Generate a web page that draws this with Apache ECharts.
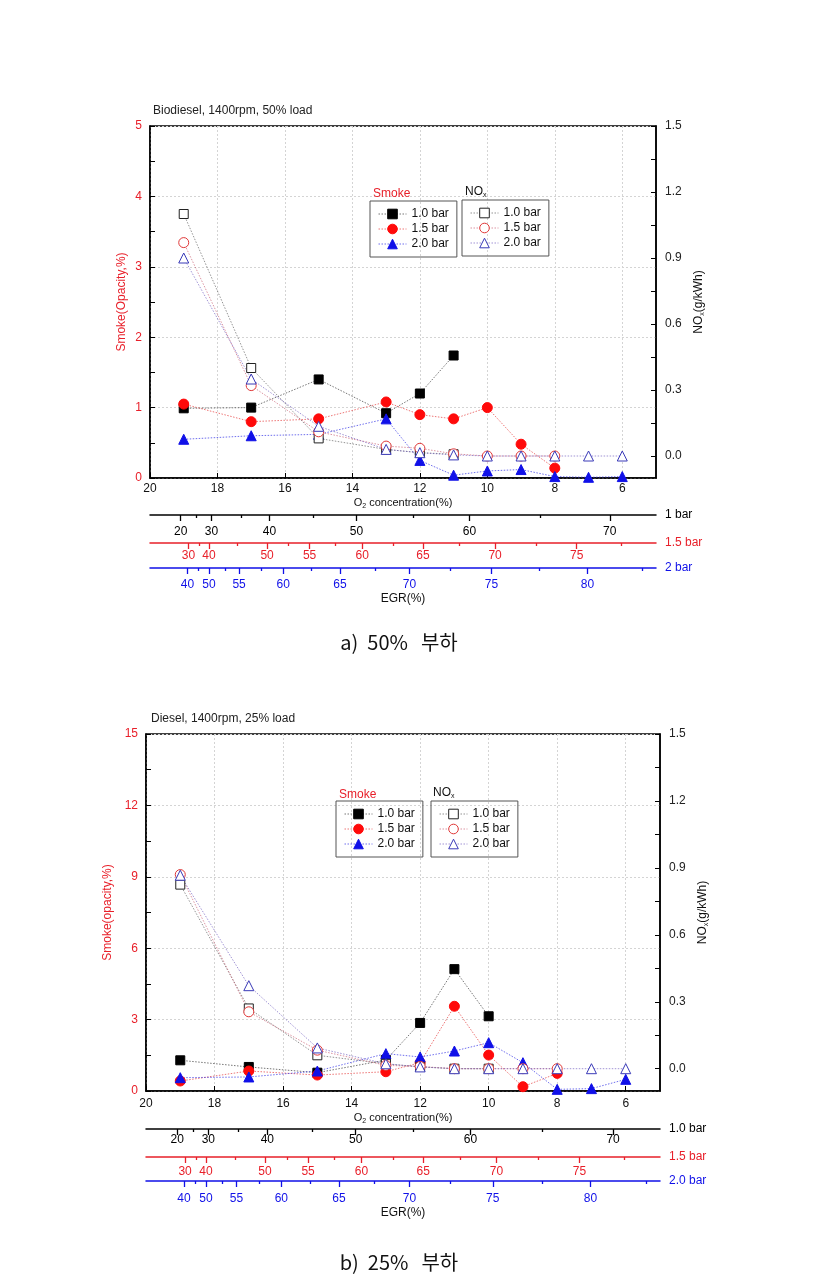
<!DOCTYPE html>
<html><head><meta charset="utf-8">
<script src="https://cdn.jsdelivr.net/npm/echarts@6/dist/echarts.min.js"></script>
<style>html,body{margin:0;padding:0;background:#fff}#c{width:833px;height:1282px}</style>
</head><body><div id="c"></div>
<script>
// ---------- data ----------
const o2 = [19, 17, 15, 13, 12, 11, 10, 9, 8, 7, 6];
const o2Ticks = [20, 18, 16, 14, 12, 10, 8, 6];
const noxLabelVals = [0.0, 0.3, 0.6, 0.9, 1.2, 1.5];
const noxTickVals = [0, 0.15, 0.3, 0.45, 0.6, 0.75, 0.9, 1.05, 1.2, 1.35, 1.5];

// (a) Biodiesel, 50% load
const aSmoke10 = [0.99, 1.00, 1.40, 0.92, 1.20, 1.74];
const aSmoke15 = [1.05, 0.80, 0.84, 1.08, 0.90, 0.84, 1.00, 0.48, 0.14];
const aSmoke20 = [0.55, 0.60, 0.62, 0.84, 0.25, 0.04, 0.10, 0.12, 0.02, 0.01, 0.02];
const aNox10 = [1.10, 0.40, 0.08, 0.03, 0.015, 0.008];
const aNox15 = [0.97, 0.32, 0.11, 0.045, 0.035, 0.01, 0.0, 0.0, 0.0];
const aNox20 = [0.90, 0.35, 0.135, 0.03, 0.015, 0.005, 0.0, 0.0, 0.0, 0.0, 0.0];

// (b) Diesel, 25% load
const bSmoke10 = [1.29, 1.01, 0.77, 1.30, 2.86, 5.12, 3.14];
const bSmoke15 = [0.42, 0.84, 0.67, 0.81, 1.19, 3.56, 1.51, 0.18, 0.74];
const bSmoke20 = [0.56, 0.59, 0.84, 1.57, 1.43, 1.68, 2.03, 1.19, 0.07, 0.10, 0.49];
const bNox10 = [0.825, 0.27, 0.06, 0.022, 0.008, 0.0, 0.0];
const bNox15 = [0.87, 0.255, 0.083, 0.015, 0.01, 0.0, 0.0, 0.0, 0.0];
const bNox20 = [0.867, 0.372, 0.093, 0.022, 0.008, 0.0, 0.0, 0.0, 0.0, 0.0, 0.0];

// EGR(%) scales: EGR tick value and the O2 concentration it sits at
const egr10Vals = [20, 25, 30, 35, 40, 45, 50, 55, 60, 65, 70];
const egr10AtO2 = [19.09, 18.63, 18.18, 17.30, 16.46, 15.16, 13.88, 12.20, 10.53, 8.43, 6.37];
const egr10Labeled = [20, 30, 40, 50, 60, 70];
const egr15Vals = [30, 35, 40, 45, 50, 52.5, 55, 57.5, 60, 62.5, 65, 67.5, 70, 72.5, 75, 77.5];
const egr15AtO2 = [18.86, 18.54, 18.25, 17.41, 16.53, 15.89, 15.27, 14.51, 13.71, 12.78, 11.91, 10.84, 9.77, 8.56, 7.35, 6.04];
const egr15Labeled = [30, 40, 50, 55, 60, 65, 70, 75];
const egr20Vals = [40, 45, 50, 52.5, 55, 57.5, 60, 62.5, 65, 67.5, 70, 72.5, 75, 77.5, 80, 82.5];
const egr20AtO2 = [18.89, 18.56, 18.25, 17.77, 17.36, 16.70, 16.05, 15.22, 14.37, 13.33, 12.31, 11.11, 9.88, 8.45, 7.03, 5.41];
const egr20Labeled = [40, 50, 55, 60, 65, 70, 75, 80];

// ---------- styles ----------
const RED = '#e8202a', BLUE = '#1010e8', BLACK = '#000';
const FONT = 'Liberation Sans, Arial, sans-serif';
const GRIDC = '#d4d4d4';

function pairs(vals) { return vals.map((v, i) => [o2[i], v]); }

function splitEgr(vals, atO2, labeled) {
  const major = [], minor = [];
  vals.forEach((v, i) => (labeled.includes(v) ? major : minor).push(atO2[i]));
  const fmt = (x) => {
    let best = 0, d = 1e9;
    atO2.forEach((p, i) => { if (Math.abs(p - x) < d) { d = Math.abs(p - x); best = i; } });
    return String(vals[best]);
  };
  return { major, minor, fmt };
}

function egrAxes(gridIndex, offset, color, vals, atO2, labeled, name, labelMargin, extraName, extraGap) {
  const s = splitEgr(vals, atO2, labeled);
  const base = { type: 'value', gridIndex, position: 'bottom', offset, min: 5, max: 20, inverse: true,
    splitLine: { show: false } };
  return [
    Object.assign({}, base, {
      axisLine: { show: true, onZero: false, lineStyle: { color, width: 1.5 } },
      axisTick: { show: true, inside: false, length: 6, customValues: s.major, lineStyle: { color, width: 1.3 } },
      axisLabel: { show: true, customValues: s.major, formatter: s.fmt, color, fontSize: 12, fontFamily: FONT, margin: labelMargin },
      name, nameLocation: 'start', nameGap: 9,
      nameTextStyle: { color, fontSize: 12, fontFamily: FONT, align: 'left', verticalAlign: 'middle' }
    }),
    Object.assign({}, base, {
      axisLine: { show: false },
      axisTick: { show: true, inside: false, length: 3, customValues: s.minor, lineStyle: { color, width: 1.3 } },
      axisLabel: { show: false },
      name: extraName || '', nameLocation: 'middle', nameGap: extraGap || 0,
      nameTextStyle: { color: '#111', fontSize: 12, fontFamily: FONT }
    })
  ];
}

function mainX(gridIndex, margin, nameGap) {
  return { type: 'value', gridIndex, position: 'bottom', min: 5, max: 20, inverse: true,
    axisLine: { show: true, onZero: false, lineStyle: { color: BLACK, width: 1.5 } },
    axisTick: { show: true, inside: true, length: 5, customValues: o2Ticks, lineStyle: { color: BLACK } },
    axisLabel: { customValues: o2Ticks, color: '#111', fontSize: 12, fontFamily: FONT, margin },
    splitLine: { show: true, lineStyle: { type: [2, 2], color: GRIDC, width: 1 } },
    name: 'O{s|2} concentration(%)', nameLocation: 'middle', nameGap,
    nameTextStyle: { color: '#111', fontSize: 11, fontFamily: FONT,
      rich: { s: { fontSize: 7, fontFamily: FONT, padding: [7, 0, 0, 0] } } } };
}

function smokeY(gridIndex, max, interval, name, nameGap) {
  return { type: 'value', gridIndex, position: 'left', min: 0, max, interval,
    axisLine: { show: true, onZero: false, lineStyle: { color: BLACK, width: 1.5 } },
    axisTick: { show: true, inside: true, length: 5, lineStyle: { color: BLACK } },
    minorTick: { show: true, splitNumber: 2, length: 5, lineStyle: { color: BLACK } },
    axisLabel: { color: RED, fontSize: 12, fontFamily: FONT, margin: 8 },
    splitLine: { show: true, lineStyle: { type: [2, 2], color: GRIDC, width: 1 } },
    name, nameLocation: 'middle', nameGap, nameMoveOverlap: false,
    nameTextStyle: { color: RED, fontSize: 12, fontFamily: FONT } };
}

function noxY(gridIndex) {
  return { type: 'value', gridIndex, position: 'right', min: -0.1, max: 1.5,
    axisLine: { show: true, onZero: false, lineStyle: { color: BLACK, width: 1.5 } },
    axisTick: { show: true, inside: true, length: 5, customValues: noxTickVals, lineStyle: { color: BLACK } },
    axisLabel: { customValues: noxLabelVals, formatter: (v) => Number(v).toFixed(1), color: '#222', fontSize: 12, fontFamily: FONT, margin: 9 },
    splitLine: { show: false },
    name: 'NO{s|x}(g/kWh)', nameLocation: 'middle', nameGap: 26,
    nameTextStyle: { color: '#111', fontSize: 12, fontFamily: FONT,
      rich: { s: { fontSize: 7, fontFamily: FONT, padding: [7, 0, 0, 0] } } } };
}

function ser(name, xi, yi, vals, symbol, color, lineColor, filled, z) {
  return { type: 'line', name, xAxisIndex: xi, yAxisIndex: yi, data: pairs(vals),
    symbol, symbolSize: symbol === 'rect' ? 9 : 10,
    showSymbol: true, z, animation: false,
    lineStyle: { type: [1.5, 1.5], width: 1, color: lineColor },
    itemStyle: filled ? { color, borderColor: color } : { color: '#fff', borderColor: color, borderWidth: 1 } };
}

function legendBox(left, top, names) {
  return { orient: 'vertical', left, top, data: names, padding: [7, 8, 7, 8],
    borderColor: '#555', borderWidth: 1, itemWidth: 28, itemHeight: 12, itemGap: 3, itemTextGap: 5,
    selectedMode: false,
    itemStyle: { borderWidth: 1 },
    lineStyle: { width: 1 },
    formatter: (n) => n.split('|')[2],
    textStyle: { fontSize: 12, fontFamily: FONT, color: '#111' } };
}

// ---------- layout ----------
const A = { left: 150, top: 126, width: 506, height: 352 };
const B = { left: 146, top: 734, width: 514, height: 357 };

const grid = [
  Object.assign({ show: true, borderColor: '#000', borderWidth: 1.5, backgroundColor: '#fff' }, A),
  { left: A.left, width: A.width, top: 505, height: 10 },
  Object.assign({ show: true, borderColor: '#000', borderWidth: 1.5, backgroundColor: '#fff' }, B),
  { left: B.left, width: B.width, top: 1119, height: 10 }
];

const xAxis = [
  mainX(0, 5, 18),                                                                        // 0
  ...egrAxes(1, 0, BLACK, egr10Vals, egr10AtO2, egr10Labeled, '1 bar', 11),               // 1,2
  ...egrAxes(1, 28, RED, egr15Vals, egr15AtO2, egr15Labeled, '1.5 bar', 7),               // 3,4
  ...egrAxes(1, 53, BLUE, egr20Vals, egr20AtO2, egr20Labeled, '2 bar', 11, 'EGR(%)', 25), // 5,6
  mainX(2, 7, 20),                                                                        // 7
  ...egrAxes(3, 0, BLACK, egr10Vals, egr10AtO2, egr10Labeled, '1.0 bar', 5),
  ...egrAxes(3, 28, RED, egr15Vals, egr15AtO2, egr15Labeled, '1.5 bar', 9),
  ...egrAxes(3, 52, BLUE, egr20Vals, egr20AtO2, egr20Labeled, '2.0 bar', 12, 'EGR(%)', 26)
];

const yAxis = [
  smokeY(0, 5, 1, 'Smoke(Opacity,%)', 22),
  noxY(0),
  { type: 'value', gridIndex: 1, show: false, min: 0, max: 1 },
  smokeY(2, 15, 3, 'Smoke(opacity,%)', 32),
  noxY(2),
  { type: 'value', gridIndex: 3, show: false, min: 0, max: 1 }
];

const series = [
  ser('a|s|1.0 bar', 0, 0, aSmoke10, 'rect', BLACK, 'rgba(60,60,60,0.7)', true, 3),
  ser('a|s|1.5 bar', 0, 0, aSmoke15, 'circle', '#ff0a0a', 'rgba(230,60,60,0.7)', true, 3),
  ser('a|s|2.0 bar', 0, 0, aSmoke20, 'triangle', BLUE, 'rgba(50,50,230,0.7)', true, 3),
  ser('a|n|1.0 bar', 0, 1, aNox10, 'rect', '#222', 'rgba(90,90,90,0.65)', false, 4),
  ser('a|n|1.5 bar', 0, 1, aNox15, 'circle', '#e03838', 'rgba(200,90,110,0.65)', false, 4),
  ser('a|n|2.0 bar', 0, 1, aNox20, 'triangle', '#3a3ab8', 'rgba(110,90,190,0.65)', false, 4),
  ser('b|s|1.0 bar', 7, 3, bSmoke10, 'rect', BLACK, 'rgba(60,60,60,0.7)', true, 3),
  ser('b|s|1.5 bar', 7, 3, bSmoke15, 'circle', '#ff0a0a', 'rgba(230,60,60,0.7)', true, 3),
  ser('b|s|2.0 bar', 7, 3, bSmoke20, 'triangle', BLUE, 'rgba(50,50,230,0.7)', true, 3),
  ser('b|n|1.0 bar', 7, 4, bNox10, 'rect', '#222', 'rgba(90,90,90,0.65)', false, 4),
  ser('b|n|1.5 bar', 7, 4, bNox15, 'circle', '#e03838', 'rgba(200,90,110,0.65)', false, 4),
  ser('b|n|2.0 bar', 7, 4, bNox20, 'triangle', '#3a3ab8', 'rgba(110,90,190,0.65)', false, 4)
];

const legend = [
  legendBox(370, 201, ['a|s|1.0 bar', 'a|s|1.5 bar', 'a|s|2.0 bar']),
  legendBox(462, 200, ['a|n|1.0 bar', 'a|n|1.5 bar', 'a|n|2.0 bar']),
  legendBox(336, 801, ['b|s|1.0 bar', 'b|s|1.5 bar', 'b|s|2.0 bar']),
  legendBox(431, 801, ['b|n|1.0 bar', 'b|n|1.5 bar', 'b|n|2.0 bar'])
];

function txt(x, y, text, style) {
  return { type: 'text', x, y, z: 100, style: Object.assign({ text, font: '12px ' + FONT, fill: '#111',
    verticalAlign: 'middle' }, style) };
}
const capRich = { a: { font: '20px "Noto Sans CJK KR", sans-serif' },
  b: { font: '20px "Noto Sans CJK KR", sans-serif', padding: [0, 0, 0, 9] },
  c: { font: '20px "Noto Sans CJK KR", sans-serif', padding: [0, 0, 0, 13] } };

const graphic = [
  txt(153, 111, 'Biodiesel, 1400rpm, 50% load', { font: '12px ' + FONT, fill: '#222' }),
  txt(373, 194, 'Smoke', { fill: RED }),
  txt(465, 192, 'NO{s|x}', { rich: { s: { font: '7px ' + FONT, padding: [7, 0, 0, 0] } } }),
  txt(151, 719, 'Diesel, 1400rpm, 25% load', { font: '12px ' + FONT, fill: '#222' }),
  txt(339, 795, 'Smoke', { fill: RED }),
  txt(433, 793, 'NO{s|x}', { rich: { s: { font: '7px ' + FONT, padding: [7, 0, 0, 0] } } }),
  txt(399, 642, '{a|a)}{b|50%}{c|부하}', { fill: '#111', align: 'center', rich: capRich }),
  txt(399, 1262, '{a|b)}{b|25%}{c|부하}', { fill: '#111', align: 'center', rich: capRich })
];

const chart = echarts.init(document.getElementById('c'), null, { renderer: 'canvas' });
chart.setOption({ backgroundColor: '#fff', animation: false, grid, xAxis, yAxis, series, legend, graphic });
</script>
</body></html>
